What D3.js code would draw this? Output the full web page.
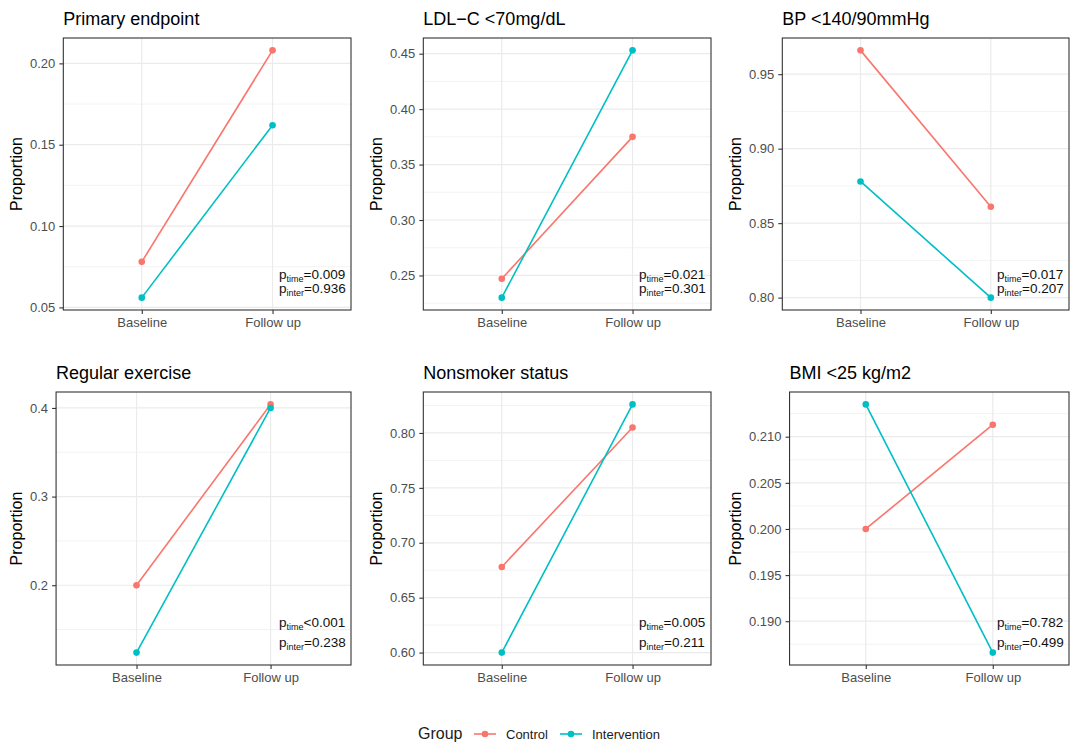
<!DOCTYPE html>
<html><head><meta charset="utf-8">
<script src="https://cdn.jsdelivr.net/npm/d3@7"></script>
<style>
body{margin:0;background:#fff}
svg{display:block;font-family:"Liberation Sans",Arial,sans-serif}
</style>
</head><body><svg id="c" width="1080" height="756"></svg>
<script>
const categories = ["Baseline", "Follow up"];
const groups = ["Control", "Intervention"];
const panelTitles = ["Primary endpoint", "LDL\u2212C <70mg/dL", "BP <140/90mmHg",
                     "Regular exercise", "Nonsmoker status", "BMI <25 kg/m2"];
const controlValues = [[0.078, 0.208], [0.247, 0.375], [0.966, 0.861],
                       [0.200, 0.404], [0.678, 0.805], [0.200, 0.2113]];
const interventionValues = [[0.056, 0.162], [0.230, 0.453], [0.878, 0.800],
                            [0.124, 0.400], [0.600, 0.826], [0.2135, 0.1866]];
const yTickLabels = [["0.05", "0.10", "0.15", "0.20"],
                     ["0.25", "0.30", "0.35", "0.40", "0.45"],
                     ["0.80", "0.85", "0.90", "0.95"],
                     ["0.2", "0.3", "0.4"],
                     ["0.60", "0.65", "0.70", "0.75", "0.80"],
                     ["0.190", "0.195", "0.200", "0.205", "0.210"]];
const pTime = ["=0.009", "=0.021", "=0.017", "<0.001", "=0.005", "=0.782"];
const pInter = ["=0.936", "=0.301", "=0.207", "=0.238", "=0.211", "=0.499"];

const svg = d3.select("#c");
const color = d3.scaleOrdinal().domain(groups).range(["#F8766D", "#00BFC4"]);
const cellX = [0, 360, 719];
const rightX = [351, 711, 1069];
const rowTop = [38, 392], rowBottom = [310, 665];
const pOff = [[31, 17], [38, 18]];

panelTitles.forEach((title, i) => {
  const col = i % 3, row = Math.floor(i / 3);
  const tmp = svg.append("text").style("font-size", "13px");
  let maxW = 0;
  yTickLabels[i].forEach(l => { tmp.text(l); maxW = Math.max(maxW, tmp.node().getComputedTextLength()); });
  tmp.remove();
  const left = cellX[col] + 30 + maxW + 8;
  const right = rightX[col], top = rowTop[row], bottom = rowBottom[row];
  const all = controlValues[i].concat(interventionValues[i]);
  const [mn, mx] = d3.extent(all);
  const pad = (mx - mn) * 0.05;
  const y = d3.scaleLinear().domain([mn - pad, mx + pad]).range([bottom, top]);
  const x = d3.scalePoint().domain(categories).range([left, right]).padding(0.6);
  const ticks = yTickLabels[i].map(Number);
  const step = ticks[1] - ticks[0];
  const minors = [ticks[0] - step / 2].concat(ticks.map(t => t + step / 2))
    .filter(v => v >= y.domain()[0] && v <= y.domain()[1]);

  const g = svg.append("g");
  // background grid
  g.selectAll(".minor").data(minors).join("line")
    .attr("x1", left).attr("x2", right).attr("y1", d => y(d)).attr("y2", d => y(d))
    .attr("stroke", "#EBEBEB").attr("stroke-width", 0.6);
  g.selectAll(".major").data(ticks).join("line")
    .attr("x1", left).attr("x2", right).attr("y1", d => y(d)).attr("y2", d => y(d))
    .attr("stroke", "#EBEBEB").attr("stroke-width", 1.2);
  g.selectAll(".vmajor").data(categories).join("line")
    .attr("x1", d => x(d)).attr("x2", d => x(d)).attr("y1", top).attr("y2", bottom)
    .attr("stroke", "#EBEBEB").attr("stroke-width", 1.2);

  const series = [
    {name: "Control", vals: controlValues[i]},
    {name: "Intervention", vals: interventionValues[i]}
  ];
  const line = d3.line().x((d, j) => x(categories[j])).y(d => y(d));
  series.forEach(s => {
    g.append("path").attr("d", line(s.vals)).attr("fill", "none")
      .attr("stroke", color(s.name)).attr("stroke-width", 1.6);
    g.selectAll(null).data(s.vals).join("circle")
      .attr("cx", (d, j) => x(categories[j])).attr("cy", d => y(d)).attr("r", 3.3)
      .attr("fill", color(s.name));
  });

  // border
  g.append("rect").attr("x", left).attr("y", top).attr("width", right - left).attr("height", bottom - top)
    .attr("fill", "none").attr("stroke", "#333333").attr("stroke-width", 1.1);

  // axes
  const ay = g.append("g").attr("transform", `translate(${left},0)`)
    .call(d3.axisLeft(y).tickValues(ticks).tickFormat((d, j) => yTickLabels[i][j]).tickSize(4).tickPadding(4));
  ay.select(".domain").remove();
  ay.selectAll("line").attr("stroke", "#333333").attr("stroke-width", 1.1);
  ay.selectAll("text").attr("fill", "#4D4D4D").style("font-size", "13px").style("font-family", "Liberation Sans, Arial, sans-serif");

  const ax = g.append("g").attr("transform", `translate(0,${bottom})`)
    .call(d3.axisBottom(x).tickSize(4).tickPadding(4));
  ax.select(".domain").remove();
  ax.selectAll("line").attr("stroke", "#333333").attr("stroke-width", 1.1);
  ax.selectAll("text").attr("fill", "#4D4D4D").style("font-size", "13px").style("font-family", "Liberation Sans, Arial, sans-serif");

  // axis title
  g.append("text").attr("transform", `translate(${cellX[col] + 22},${(top + bottom) / 2}) rotate(-90)`)
    .attr("text-anchor", "middle").style("font-size", "16px").attr("fill", "#000").text("Proportion");

  // panel title
  g.append("text").attr("x", left).attr("y", top - 13).style("font-size", "18px").attr("fill", "#000").text(title);

  // p values
  [["time", pTime[i]], ["inter", pInter[i]]].forEach(([sub, val], k) => {
    const t = g.append("text").attr("x", right - 72).attr("y", bottom - pOff[row][k])
      .style("font-size", "13.5px").attr("fill", "#111");
    t.append("tspan").text("p");
    t.append("tspan").attr("dy", 3).style("font-size", "9px").text(sub);
    t.append("tspan").attr("dy", -3).text(val);
  });
});

// legend
const lg = svg.append("g");
lg.append("text").attr("x", 418).attr("y", 739).style("font-size", "16px").attr("fill", "#1a1a1a").text("Group");
const legendX = [474, 560];
groups.forEach((gname, k) => {
  const x0 = legendX[k];
  lg.append("line").attr("x1", x0).attr("x2", x0 + 22).attr("y1", 734).attr("y2", 734)
    .attr("stroke", color(gname)).attr("stroke-width", 1.6);
  lg.append("circle").attr("cx", x0 + 11).attr("cy", 734).attr("r", 3.3).attr("fill", color(gname));
  lg.append("text").attr("x", x0 + 32).attr("y", 738.5).style("font-size", "13px").attr("fill", "#1a1a1a").text(gname);
});
</script>
</body></html>
